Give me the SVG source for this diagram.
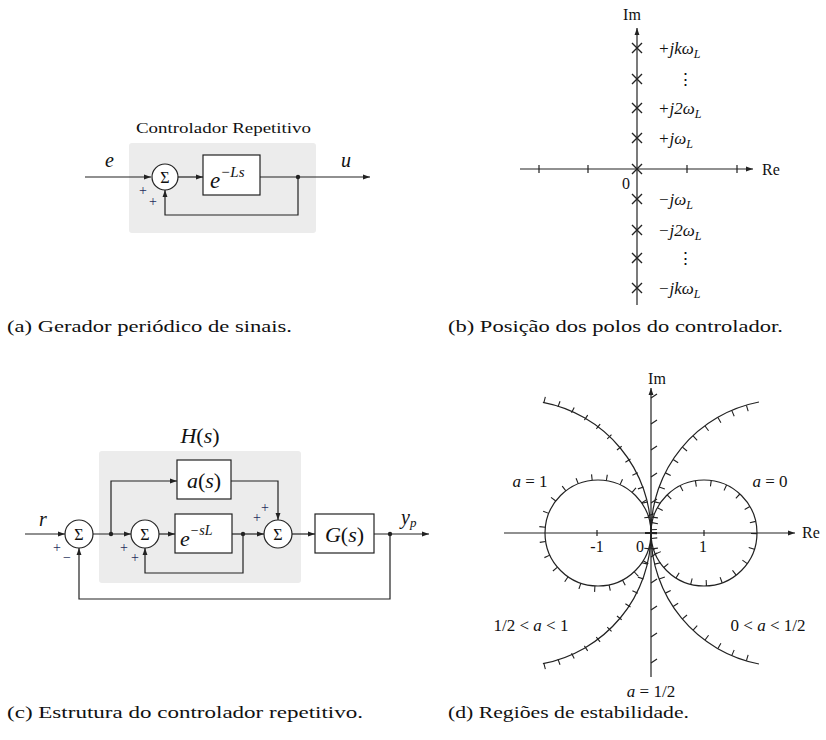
<svg xmlns="http://www.w3.org/2000/svg" width="826" height="740" viewBox="0 0 826 740">
<defs>
<marker id="ar" viewBox="0 0 10 10" refX="10" refY="5" markerWidth="7" markerHeight="7" orient="auto" markerUnits="userSpaceOnUse"><path d="M0,1.5 L10,5 L0,8.5 z" fill="#222"/></marker>
</defs>
<style>
.ln{stroke:#222;stroke-width:1.2;fill:none}
.box{fill:#fff;stroke:#222;stroke-width:1.2}
.gray{fill:#ececec}
.dot{fill:#222}
.t{font-family:"Liberation Serif","DejaVu Serif",serif;fill:#111}
.m{font-style:italic}
.sg{font-family:"Liberation Serif",serif;font-size:14px;fill:#1f2d5c}
.cap{font-family:"Liberation Serif","DejaVu Serif",serif;font-size:17px;fill:#111}
.hat{fill:none;stroke:#222;stroke-width:6;stroke-dasharray:1.1 14}
.x{stroke:#222;stroke-width:1.4}
</style>
<rect width="826" height="740" fill="#fff"/>

<!-- Panel (a) -->
<g id="panel-a">
<rect class="gray" x="129" y="143" width="187" height="90" rx="3"/>
<text class="t" x="136" y="133" font-size="15" textLength="175" lengthAdjust="spacingAndGlyphs">Controlador Repetitivo</text>
<g id="a-sum"><circle class="box" cx="165" cy="177" r="13"/><text class="t" x="165" y="182.5" font-size="16" text-anchor="middle">Σ</text></g>
<g id="a-delay"><rect class="box" x="203" y="155" width="57" height="40"/><text class="t m" x="210" y="188" font-size="23">e<tspan font-size="15" dy="-11">−Ls</tspan></text></g>
<text class="t m" x="105" y="167" font-size="20">e</text>
<text class="t m" x="341" y="167" font-size="20">u</text>
<text class="sg" x="143" y="195" text-anchor="middle">+</text>
<text class="sg" x="153" y="206" text-anchor="middle">+</text>
<g id="a-conn">
<path class="ln" d="M85 177 H151" marker-end="url(#ar)"/>
<path class="ln" d="M178 177 H203" marker-end="url(#ar)"/>
<path class="ln" d="M260 177 H370" marker-end="url(#ar)"/>
<path class="ln" d="M298 177 V215 H165 V190" marker-end="url(#ar)"/>
<circle class="dot" cx="298" cy="177" r="2.2"/>
</g>
</g>

<!-- Panel (b) -->
<g id="panel-b">
<path class="ln" d="M637 305 V28" marker-end="url(#ar)"/>
<path class="ln" d="M520 169 H753" marker-end="url(#ar)"/>
<path class="ln" d="M539 165 V173 M588 165 V173 M687 165 V173 M737 165 V173"/>
<text class="t" x="632" y="20" font-size="16" text-anchor="middle">Im</text>
<text class="t" x="762" y="175" font-size="16">Re</text>
<text class="t" x="626" y="189" font-size="16" text-anchor="middle">0</text>
<g class="x">
<path d="M632 43 l10 10 m0 -10 l-10 10"/>
<path d="M632 74 l10 10 m0 -10 l-10 10"/>
<path d="M632 103 l10 10 m0 -10 l-10 10"/>
<path d="M632 133 l10 10 m0 -10 l-10 10"/>
<path d="M632 164 l10 10 m0 -10 l-10 10"/>
<path d="M632 194 l10 10 m0 -10 l-10 10"/>
<path d="M632 225 l10 10 m0 -10 l-10 10"/>
<path d="M632 253 l10 10 m0 -10 l-10 10"/>
<path d="M632 283 l10 10 m0 -10 l-10 10"/>
</g>
<text class="t m" x="658" y="54" font-size="17">+jkω<tspan font-size="12" dy="4">L</tspan></text>
<text class="t" x="685" y="85" font-size="17" text-anchor="middle">⋮</text>
<text class="t m" x="658" y="114" font-size="17">+j2ω<tspan font-size="12" dy="4">L</tspan></text>
<text class="t m" x="658" y="144" font-size="17">+jω<tspan font-size="12" dy="4">L</tspan></text>
<text class="t m" x="658" y="205" font-size="17">−jω<tspan font-size="12" dy="4">L</tspan></text>
<text class="t m" x="658" y="236" font-size="17">−j2ω<tspan font-size="12" dy="4">L</tspan></text>
<text class="t" x="685" y="264" font-size="17" text-anchor="middle">⋮</text>
<text class="t m" x="658" y="294" font-size="17">−jkω<tspan font-size="12" dy="4">L</tspan></text>
</g>

<!-- Panel (c) -->
<g id="panel-c">
<rect class="gray" x="99" y="451" width="202" height="132" rx="3"/>
<text class="t" x="200" y="443" font-size="22" text-anchor="middle"><tspan class="m">H</tspan>(<tspan class="m">s</tspan>)</text>
<g id="c-sum1"><circle class="box" cx="79" cy="534" r="14"/><text class="t" x="79" y="540" font-size="16" text-anchor="middle">Σ</text></g>
<g id="c-sum2"><circle class="box" cx="145" cy="534" r="14"/><text class="t" x="145" y="540" font-size="16" text-anchor="middle">Σ</text></g>
<g id="c-sum3"><circle class="box" cx="278" cy="534" r="14"/><text class="t" x="278" y="540" font-size="16" text-anchor="middle">Σ</text></g>
<g id="c-as"><rect class="box" x="177" y="460" width="54" height="39"/><text class="t" x="204" y="488" font-size="22" text-anchor="middle"><tspan class="m">a</tspan>(<tspan class="m">s</tspan>)</text></g>
<g id="c-delay"><rect class="box" x="175" y="514" width="57" height="39"/><text class="t m" x="180" y="546" font-size="22">e<tspan font-size="14" dy="-11">−sL</tspan></text></g>
<g id="c-gs"><rect class="box" x="315" y="514" width="59" height="39"/><text class="t" x="344.5" y="542" font-size="22" text-anchor="middle"><tspan class="m">G</tspan>(<tspan class="m">s</tspan>)</text></g>
<text class="t m" x="43" y="526" font-size="20" text-anchor="middle">r</text>
<text class="t m" x="401" y="524" font-size="20">y<tspan font-size="13" dy="3">p</tspan></text>
<text class="sg" x="57" y="552" text-anchor="middle">+</text>
<text class="sg" x="67" y="562" text-anchor="middle">−</text>
<text class="sg" x="124" y="552" text-anchor="middle">+</text>
<text class="sg" x="135" y="562" text-anchor="middle">+</text>
<text class="sg" x="257" y="522" text-anchor="middle">+</text>
<text class="sg" x="265" y="512" text-anchor="middle">+</text>
<g id="c-conn">
<path class="ln" d="M25 534 H65" marker-end="url(#ar)"/>
<path class="ln" d="M93 534 H131" marker-end="url(#ar)"/>
<path class="ln" d="M111 534 V481 H177" marker-end="url(#ar)"/>
<path class="ln" d="M159 534 H175" marker-end="url(#ar)"/>
<path class="ln" d="M232 534 H264" marker-end="url(#ar)"/>
<path class="ln" d="M243 534 V573 H145 V548" marker-end="url(#ar)"/>
<path class="ln" d="M231 481 H278 V520" marker-end="url(#ar)"/>
<path class="ln" d="M292 534 H315" marker-end="url(#ar)"/>
<path class="ln" d="M374 534 H429" marker-end="url(#ar)"/>
<path class="ln" d="M390 534 V599 H79 V548" marker-end="url(#ar)"/>
<circle class="dot" cx="111" cy="534" r="2.2"/>
<circle class="dot" cx="243" cy="534" r="2.2"/>
<circle class="dot" cx="390" cy="534" r="2.2"/>
</g>
</g>

<!-- Panel (d) -->
<g id="panel-d">
<path class="ln" d="M504 533 H795" marker-end="url(#ar)"/>
<path class="ln" d="M651 677 V388" marker-end="url(#ar)"/>
<path class="ln" d="M597 530 V536 M704 530 V536"/>
<path class="ln" d="M651 398 l6 -4 M651 424 l6 -4 M651 450 l6 -4 M651 477 l6 -4 M651 503 l6 -4 M651 557 l6 -4 M651 583 l6 -4 M651 610 l6 -4 M651 637 l6 -4 M651 663 l6 -4"/>
<circle class="ln" cx="704" cy="533" r="53"/>
<circle class="hat" cx="704" cy="533" r="50"/>
<circle class="ln" cx="598" cy="533" r="53"/>
<circle class="hat" cx="598" cy="533" r="56"/>
<path class="ln" d="M651 533 A133 133 0 0 1 759 402"/>
<path class="hat" d="M654 533 A130 130 0 0 1 759.6 405.3"/>
<path class="ln" d="M651 533 A133 133 0 0 0 759 664"/>
<path class="hat" d="M654 533 A130 130 0 0 0 759.6 660.7"/>
<path class="ln" d="M651 533 A133 133 0 0 0 542.9 402.4"/>
<path class="hat" d="M648 533 A136 136 0 0 0 543.5 399.4"/>
<path class="ln" d="M651 533 A133 133 0 0 1 542.9 663.6"/>
<path class="hat" d="M648 533 A136 136 0 0 1 543.5 666.6"/>
<text class="t" x="657" y="384" font-size="16" text-anchor="middle">Im</text>
<text class="t" x="802" y="538" font-size="16">Re</text>
<text class="t" x="597" y="552" font-size="16" text-anchor="middle">-1</text>
<text class="t" x="640" y="552" font-size="16" text-anchor="middle">0</text>
<text class="t" x="703" y="552" font-size="16" text-anchor="middle">1</text>
<text class="t" x="530" y="487" font-size="17" text-anchor="middle"><tspan class="m">a</tspan> = 1</text>
<text class="t" x="770" y="487" font-size="17" text-anchor="middle"><tspan class="m">a</tspan> = 0</text>
<text class="t" x="531" y="631" font-size="17" text-anchor="middle">1/2 &lt; <tspan class="m">a</tspan> &lt; 1</text>
<text class="t" x="768" y="631" font-size="17" text-anchor="middle">0 &lt; <tspan class="m">a</tspan> &lt; 1/2</text>
<text class="t" x="651" y="697" font-size="17" text-anchor="middle"><tspan class="m">a</tspan> = 1/2</text>
</g>

<!-- Captions -->
<text class="cap" x="7" y="332" textLength="285" lengthAdjust="spacingAndGlyphs">(a) Gerador periódico de sinais.</text>
<text class="cap" x="448" y="332" textLength="335" lengthAdjust="spacingAndGlyphs">(b) Posição dos polos do controlador.</text>
<text class="cap" x="7" y="718" textLength="356" lengthAdjust="spacingAndGlyphs">(c) Estrutura do controlador repetitivo.</text>
<text class="cap" x="448" y="718" textLength="241" lengthAdjust="spacingAndGlyphs">(d) Regiões de estabilidade.</text>
</svg>
